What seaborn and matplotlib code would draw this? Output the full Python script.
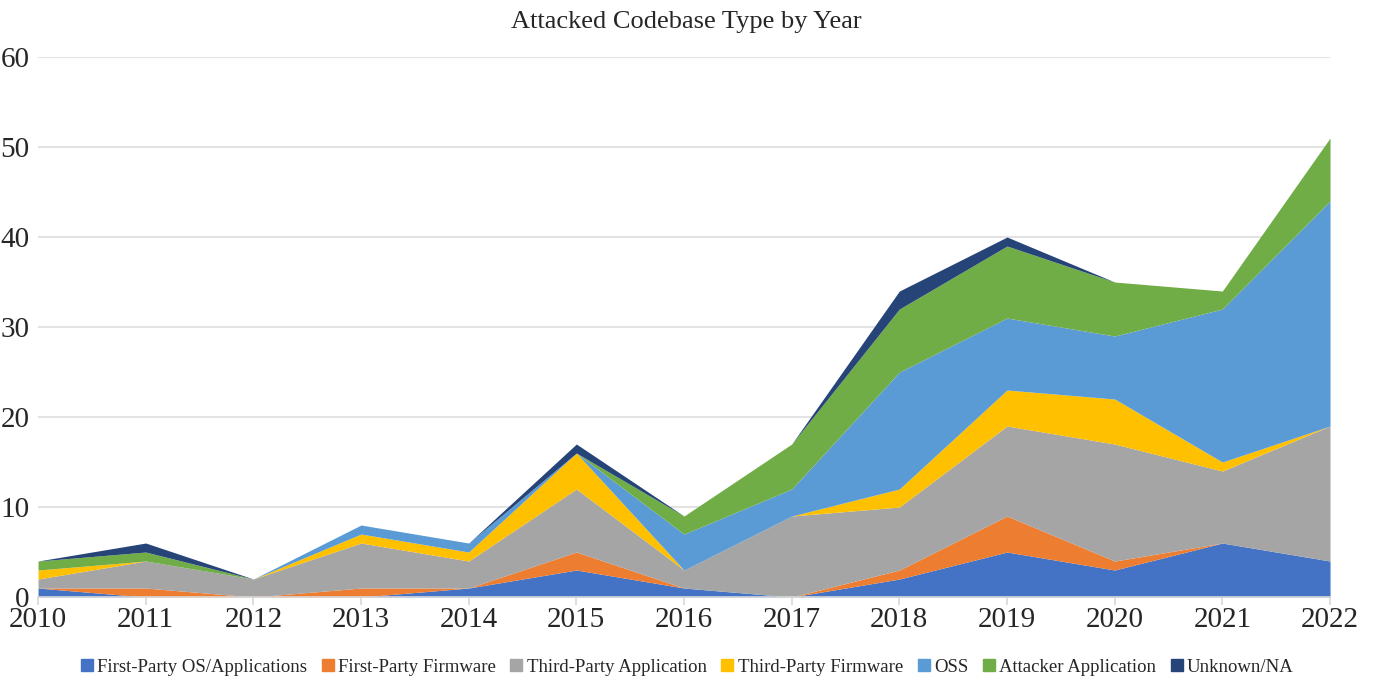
import numpy as np
import pandas as pd
import matplotlib
matplotlib.use("Agg")
import matplotlib.pyplot as plt
import seaborn as sns
from matplotlib.lines import Line2D

years = [2010, 2011, 2012, 2013, 2014, 2015, 2016, 2017, 2018, 2019, 2020, 2021, 2022]
first_party_os = [1, 0, 0, 0, 1, 3, 1, 0, 2, 5, 3, 6, 4]
first_party_fw = [0, 1, 0, 1, 0, 2, 0, 0, 1, 4, 1, 0, 0]
third_party_app = [1, 3, 2, 5, 3, 7, 2, 9, 7, 10, 13, 8, 15]
third_party_fw = [1, 0, 0, 1, 1, 4, 0, 0, 2, 4, 5, 1, 0]
oss = [0, 0, 0, 1, 1, 0, 4, 3, 13, 8, 7, 17, 25]
attacker_app = [1, 1, 0, 0, 0, 0, 2, 5, 7, 8, 6, 2, 7]
unknown = [0, 1, 0, 0, 0, 1, 0, 0, 2, 1, 0, 0, 0]

series_names = ["First-Party OS/Applications", "First-Party Firmware", "Third-Party Application",
                "Third-Party Firmware", "OSS", "Attacker Application", "Unknown/NA"]
colors = ["#4472C4", "#ED7D31", "#A5A5A5", "#FFC000", "#5B9BD5", "#70AD47", "#264478"]

df = pd.DataFrame({"Year": years,
                   series_names[0]: first_party_os,
                   series_names[1]: first_party_fw,
                   series_names[2]: third_party_app,
                   series_names[3]: third_party_fw,
                   series_names[4]: oss,
                   series_names[5]: attacker_app,
                   series_names[6]: unknown})

sns.set_theme(style="white")
plt.rcParams['font.family'] = ['Liberation Serif', 'DejaVu Serif']

fig = plt.figure(figsize=(13.73, 6.82), dpi=100)
ax = fig.add_axes([0.0277, 0.1246, 0.9410, 0.7918])

ax.stackplot(df["Year"], *[df[n] for n in series_names], colors=colors, labels=series_names,
             linewidth=0, zorder=2)

ax.set_xlim(2010, 2022)
ax.set_ylim(0, 60)
ax.set_yticks(range(0, 61, 10))
ax.set_xticks(years)
ax.yaxis.grid(True, color="#E3E3E3", linewidth=1.5, zorder=0)
ax.set_axisbelow(True)
sns.despine(ax=ax, left=True, top=True, right=True, bottom=False)
ax.spines["bottom"].set_color("#D9D9D9")
ax.spines["bottom"].set_linewidth(1.2)
ax.tick_params(axis="x", which="both", bottom=True, length=6, color="#D9D9D9", labelsize=21, pad=1)
ax.tick_params(axis="y", which="both", left=False, labelsize=21, pad=0)

fig.text(0.5, 0.968, "Attacked Codebase Type by Year", ha="center", va="center", fontsize=19)

handles = [Line2D([0], [0], marker="s", linestyle="none", markersize=8,
                  markerfacecolor=c, markeredgecolor=c) for c in colors]
fig.legend(handles, series_names, loc="center", bbox_to_anchor=(0.5, 0.022), ncol=7,
           frameon=False, fontsize=13.5, handletextpad=0.15, columnspacing=0.7, handlelength=0.8)

fig.savefig("out.png", dpi=100, facecolor="white")
